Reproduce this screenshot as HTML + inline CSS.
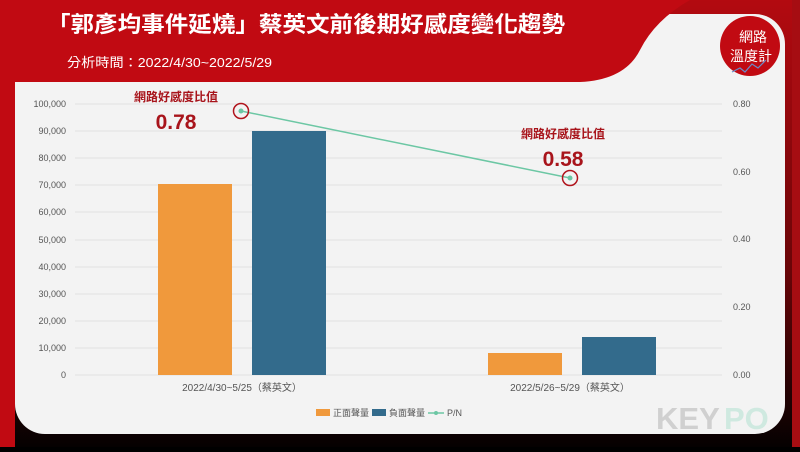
<!DOCTYPE html>
<html><head><meta charset="utf-8"><style>
body{margin:0;width:800px;height:447px;overflow:hidden;background:#000;font-family:"Liberation Sans","Noto Sans CJK TC",sans-serif}
</style></head><body>
<svg width="800" height="447" viewBox="0 0 800 447" xmlns="http://www.w3.org/2000/svg" font-family="Liberation Sans, Noto Sans CJK TC, sans-serif">
<defs>
<linearGradient id="bg" x1="0" y1="0" x2="0" y2="1">
<stop offset="0" stop-color="#b30a10"/><stop offset="0.6" stop-color="#6a0508"/><stop offset="1" stop-color="#050101"/>
</linearGradient>
</defs>
<rect width="800" height="447" fill="url(#bg)"/>
<rect x="792" y="0" width="8" height="447" fill="#a60d12"/>
<rect x="15" y="14" width="770" height="420" rx="30" fill="#f3f3f3"/>
<path d="M0 0 H690 Q655 20 640 50 Q625 80 580 82 H15 V447 H0 Z" fill="#c10a12"/>
<text x="47" y="32" fill="#fff" font-size="22" font-weight="bold" textLength="518" lengthAdjust="spacingAndGlyphs">「郭彥均事件延燒」蔡英文前後期好感度變化趨勢</text>
<text x="67" y="67" fill="#fff" font-size="13" textLength="205" lengthAdjust="spacingAndGlyphs">分析時間：2022/4/30~2022/5/29</text>
<circle cx="750" cy="46" r="30" fill="#c10a12"/>
<text x="753" y="42" fill="#fff" font-size="14" text-anchor="middle">網路</text>
<text x="751" y="61" fill="#fff" font-size="14" text-anchor="middle">溫度計</text>
<polyline points="732,72 740,68 745,72 752,64 758,68 766,60" fill="none" stroke="#6a8cc9" stroke-width="1.2"/>
<g stroke="#e2e2e2" stroke-width="1">
<line x1="75" y1="104" x2="722" y2="104"/><line x1="75" y1="131" x2="722" y2="131"/><line x1="75" y1="158" x2="722" y2="158"/><line x1="75" y1="185" x2="722" y2="185"/><line x1="75" y1="212" x2="722" y2="212"/><line x1="75" y1="240" x2="722" y2="240"/><line x1="75" y1="267" x2="722" y2="267"/><line x1="75" y1="294" x2="722" y2="294"/><line x1="75" y1="321" x2="722" y2="321"/><line x1="75" y1="348" x2="722" y2="348"/><line x1="75" y1="375" x2="722" y2="375"/>
</g>
<g fill="#555" font-size="9" text-anchor="end">
<text x="66" y="107">100,000</text><text x="66" y="134">90,000</text><text x="66" y="161">80,000</text><text x="66" y="188">70,000</text><text x="66" y="215">60,000</text><text x="66" y="243">50,000</text><text x="66" y="270">40,000</text><text x="66" y="297">30,000</text><text x="66" y="324">20,000</text><text x="66" y="351">10,000</text><text x="66" y="378">0</text>
</g>
<g fill="#555" font-size="9">
<text x="733" y="107">0.80</text><text x="733" y="175">0.60</text><text x="733" y="242">0.40</text><text x="733" y="310">0.20</text><text x="733" y="378">0.00</text>
</g>
<rect x="158" y="184" width="74" height="191" fill="#f0993c"/>
<rect x="252" y="131" width="74" height="244" fill="#336b8c"/>
<rect x="488" y="353" width="74" height="22" fill="#f0993c"/>
<rect x="582" y="337" width="74" height="38" fill="#336b8c"/>
<line x1="241" y1="111" x2="570" y2="178" stroke="#6cc7a4" stroke-width="1.5"/>
<circle cx="241" cy="111" r="2.5" fill="#6cc7a4"/><circle cx="570" cy="178" r="2.5" fill="#6cc7a4"/>
<circle cx="241" cy="111" r="7.5" fill="none" stroke="#b0141c" stroke-width="1.5"/>
<circle cx="570" cy="178" r="7.5" fill="none" stroke="#b0141c" stroke-width="1.5"/>
<text x="176" y="101" fill="#a8141b" font-size="12" font-weight="bold" text-anchor="middle">網路好感度比值</text>
<text x="176" y="129" fill="#a8141b" font-size="21" font-weight="bold" text-anchor="middle">0.78</text>
<text x="563" y="138" fill="#a8141b" font-size="12" font-weight="bold" text-anchor="middle">網路好感度比值</text>
<text x="563" y="166" fill="#a8141b" font-size="21" font-weight="bold" text-anchor="middle">0.58</text>
<text x="242" y="391" fill="#555" font-size="10" text-anchor="middle">2022/4/30~5/25（蔡英文）</text>
<text x="570" y="391" fill="#555" font-size="10" text-anchor="middle">2022/5/26~5/29（蔡英文）</text>
<rect x="316" y="409" width="14" height="7" fill="#f0993c"/>
<text x="333" y="416" fill="#555" font-size="9">正面聲量</text>
<rect x="372" y="409" width="14" height="7" fill="#336b8c"/>
<text x="389" y="416" fill="#555" font-size="9">負面聲量</text>
<line x1="428" y1="413" x2="444" y2="413" stroke="#6cc7a4" stroke-width="1.5"/><circle cx="436" cy="413" r="2" fill="#6cc7a4"/>
<text x="447" y="416" fill="#555" font-size="9">P/N</text>
<text x="656" y="429" fill="#d0d0d0" font-size="31" font-weight="bold">KEY</text>
<text x="724" y="429" fill="#cfe9e0" font-size="31" font-weight="bold">PO</text>
</svg>
</body></html>
